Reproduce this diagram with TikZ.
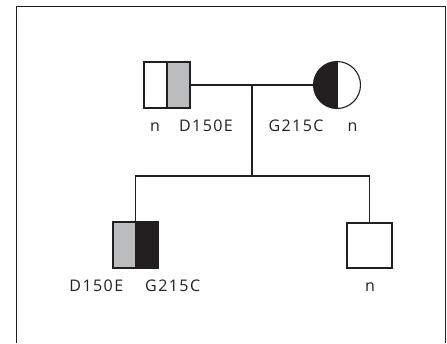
\documentclass[tikz,border=0pt]{standalone}
\usepackage{fontspec}
\setmainfont{Open Sans}[LetterSpace=9]
\definecolor{ink}{HTML}{231F20}
\definecolor{carrier}{HTML}{BBBCBE}
\begin{document}
\begin{tikzpicture}[x=1pt,y=-1pt,
  line/.style={draw=ink,line width=1.1pt},
  lbl/.style={inner sep=0pt,font=\fontsize{16}{18}\selectfont,text=ink,anchor=base}]
\useasboundingbox (0,0) rectangle (447,343);
% open frame round the pedigree
\draw[line,line width=1pt] (16,343) -- (16,6) -- (445,6) -- (445,343);

% father: n / D150E
\fill[carrier] (167,62) rectangle (190,108);
\node[line,minimum width=46pt,minimum height=46pt,inner sep=0pt] (fa) at (167,85) {};
\draw[line] (fa.north) -- (fa.south);

% mother: G215C / n
\coordinate (mo) at (337,85);
\begin{scope}
  \clip (300,50) rectangle (337,120);
  \fill[ink] (mo) circle[radius=23.5pt];
\end{scope}
\node[line,circle,minimum size=47pt,inner sep=0pt] (moc) at (mo) {};
\draw[line] (moc.north) -- (moc.south);

% first child: D150E / G215C
\fill[carrier] (113,222) rectangle (135,268);
\fill[ink] (135,222) rectangle (158,268);
\node[line,minimum width=45pt,minimum height=46pt,inner sep=0pt] (c1) at (135.5,245) {};

% second child: n
\node[line,minimum width=45pt,minimum height=45pt,inner sep=0pt] (c2) at (369.5,245.5) {};

% mating and sibship lines
\coordinate (mid) at (252,85);
\coordinate (sib) at (252,176);
\draw[line] (fa.east) -- (moc.west);
\draw[line] (mid) -- (sib);
\draw[line] (c1.north) -- (c1.north |- sib) -- (c2.north |- sib) -- (c2.north);

% genotype labels
\node[lbl] (l1) at (155,131.5) {n};
\node[lbl] (l2) at (206,131.5) {D150E};
\node[lbl] (l3) at (296,131.5) {G215C};
\node[lbl] (l4) at (352.5,131.5) {n};
\node[lbl] (l5) at (96.3,291.5) {D150E};
\node[lbl] (l6) at (172.7,291.5) {G215C};
\node[lbl] (l7) at (370,291.5) {n};
\end{tikzpicture}
\end{document}
